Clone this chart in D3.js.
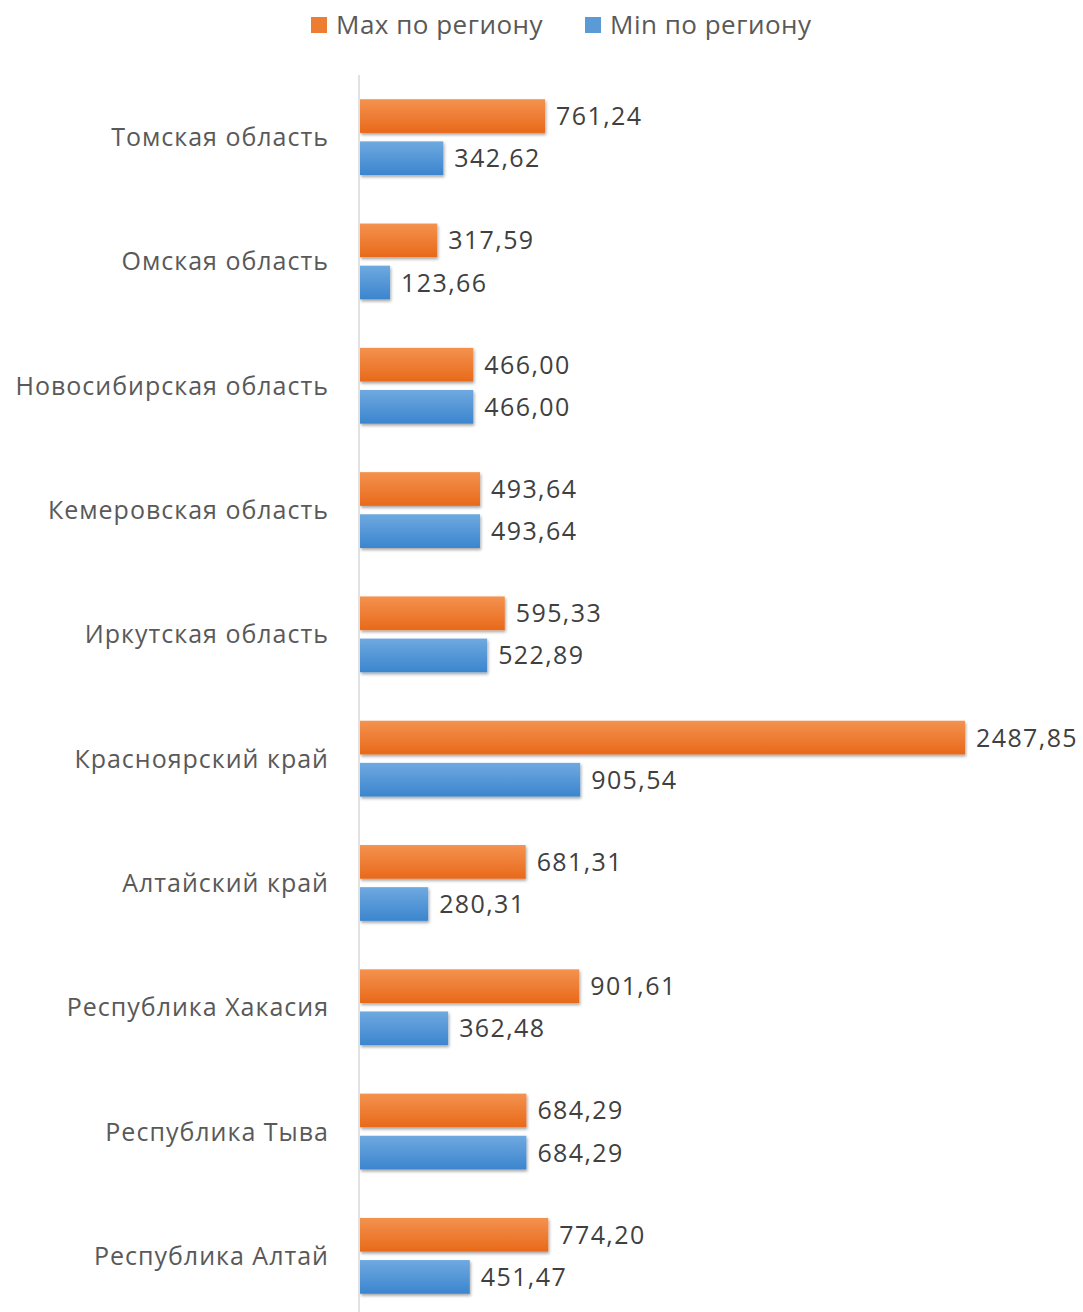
<!DOCTYPE html>
<html lang="ru">
<head>
<meta charset="UTF-8">
<script src="https://d3js.org/d3.v7.min.js"></script>
<style>
  body { margin: 0; background: #fff; }
  text { font-family: "Open Sans", "DejaVu Sans", sans-serif; fill: #595959; }
</style>
</head>
<body>
<svg id="chart" width="1083" height="1312"></svg>
<script>
// data
const regions = ["Томская область", "Омская область", "Новосибирская область", "Кемеровская область",
  "Иркутская область", "Красноярский край", "Алтайский край", "Республика Хакасия",
  "Республика Тыва", "Республика Алтай"];
const seriesNames = ["Max по региону", "Min по региону"];
const maxValues = [761.24, 317.59, 466.00, 493.64, 595.33, 2487.85, 681.31, 901.61, 684.29, 774.20];
const minValues = [342.62, 123.66, 466.00, 493.64, 522.89, 905.54, 280.31, 362.48, 684.29, 451.47];

const svg = d3.select("svg#chart");
const margin = { top: 75, left: 360 };
const chartHeight = 1243;

const locale = d3.formatLocale({ decimal: ",", thousands: "", grouping: [3] });
const fmt = locale.format(".2f");

const rows = regions.map((r, i) => ({ region: r, values: [maxValues[i], minValues[i]] }));

// scales
const x = d3.scaleLinear().domain([0, 2487.85]).range([0, 605]);
const y0 = d3.scaleBand().domain(regions).range([0, chartHeight])
  .paddingInner(0.39).paddingOuter(0.195);
const y1 = d3.scaleBand().domain([0, 1]).range([0, y0.bandwidth()]).paddingInner(0.2);

// gradients + shadow
const defs = svg.append("defs");
const grads = [
  { id: "gOrange", top: "#F4924F", bottom: "#E8691A" },
  { id: "gBlue", top: "#6FA9E0", bottom: "#3B85CE" }
];
grads.forEach(g => {
  const lg = defs.append("linearGradient").attr("id", g.id)
    .attr("x1", 0).attr("y1", 0).attr("x2", 0).attr("y2", 1);
  lg.append("stop").attr("offset", "0%").attr("stop-color", g.top);
  lg.append("stop").attr("offset", "100%").attr("stop-color", g.bottom);
});
const f = defs.append("filter").attr("id", "shadow")
  .attr("x", "-5%").attr("y", "-20%").attr("width", "115%").attr("height", "160%");
f.append("feDropShadow").attr("dx", 1).attr("dy", 2).attr("stdDeviation", 1.5)
  .attr("flood-color", "#000").attr("flood-opacity", 0.35);

const fills = ["url(#gOrange)", "url(#gBlue)"];
const legendColors = ["#ED7D31", "#5B9BD5"];

const chartArea = svg.append("g")
  .attr("transform", `translate(${margin.left},${margin.top})`);

// vertical axis line
svg.append("line")
  .attr("x1", margin.left - 1).attr("x2", margin.left - 1)
  .attr("y1", margin.top).attr("y2", 1312)
  .attr("stroke", "#D9D9D9").attr("stroke-width", 1.5);

const groups = chartArea.selectAll("g.region").data(rows).join("g")
  .attr("class", "region")
  .attr("transform", d => `translate(0,${y0(d.region)})`);

groups.selectAll("rect").data(d => d.values).join("rect")
  .attr("x", 0)
  .attr("y", (d, i) => y1(i))
  .attr("width", d => x(d))
  .attr("height", y1.bandwidth())
  .attr("fill", (d, i) => fills[i])
  .attr("filter", "url(#shadow)");

groups.selectAll("text.val").data(d => d.values).join("text")
  .attr("class", "val")
  .attr("x", d => x(d) + 11)
  .attr("y", (d, i) => y1(i) + y1.bandwidth() / 2)
  .attr("dy", "0.36em")
  .style("font-size", "25px")
  .style("letter-spacing", "1.4px")
  .style("fill", "#404040")
  .text(d => fmt(d));

// category labels
groups.append("text")
  .attr("x", -31)
  .attr("y", y0.bandwidth() / 2)
  .attr("dy", "0.36em")
  .attr("text-anchor", "end")
  .style("font-size", "25px")
  .style("letter-spacing", "1px")
  .text(d => d.region);

// legend
const legendX = [311, 585];
seriesNames.forEach((s, i) => {
  svg.append("rect")
    .attr("x", legendX[i]).attr("y", 17)
    .attr("width", 16).attr("height", 16)
    .attr("fill", legendColors[i]);
  svg.append("text")
    .attr("x", legendX[i] + 25).attr("y", 25)
    .attr("dy", "0.36em")
    .style("font-size", "26px")
    .style("letter-spacing", "0.5px")
    .text(s);
});
</script>
</body>
</html>
